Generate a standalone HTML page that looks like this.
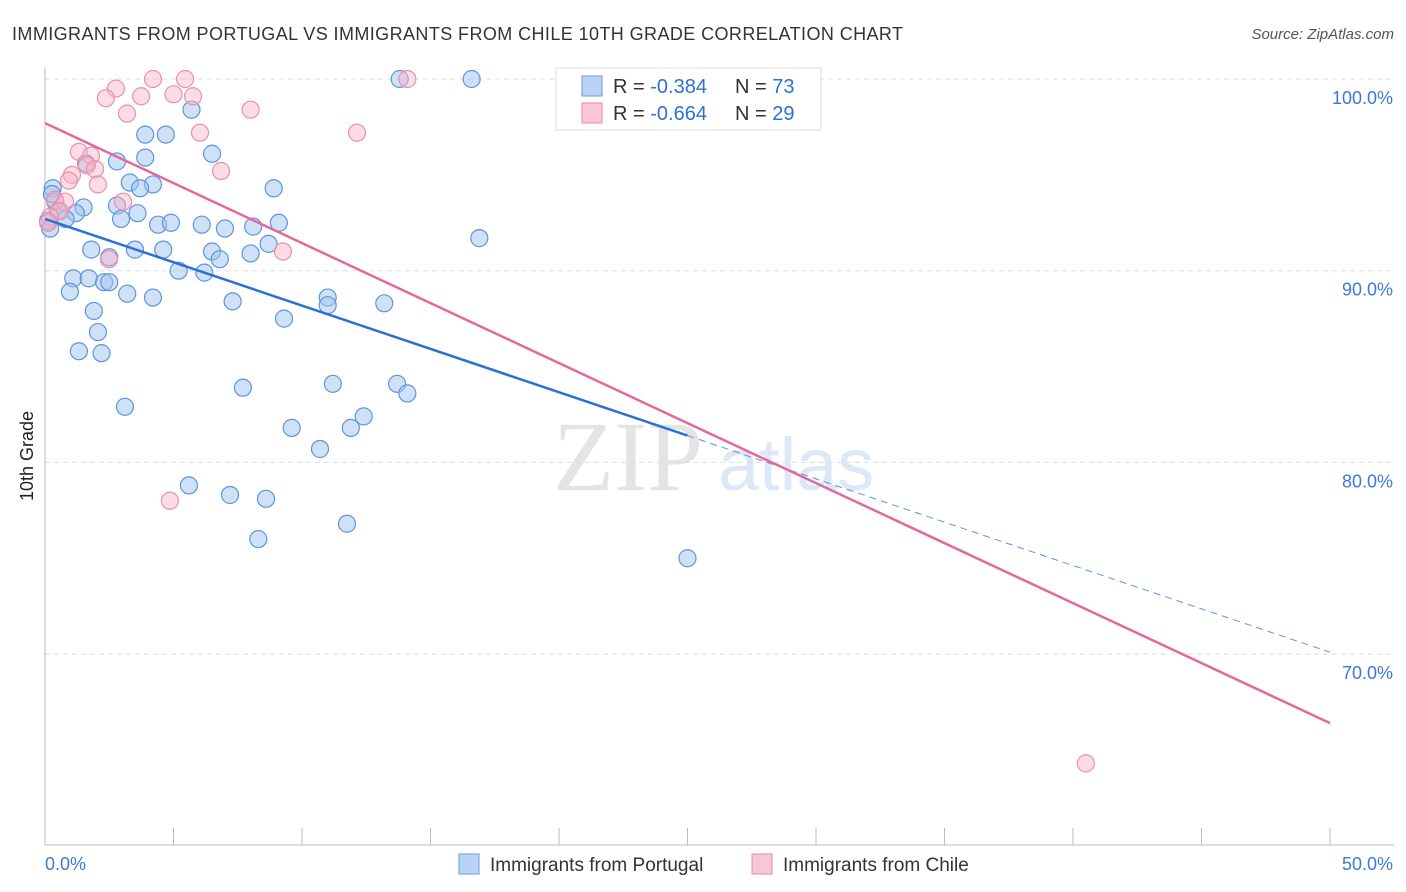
<!DOCTYPE html>
<html><head><meta charset="utf-8"><style>
body{margin:0;background:#fff;font-family:"Liberation Sans",sans-serif}
svg{display:block}
</style></head><body>
<svg id="c" width="1406" height="892">
<text x="12" y="40" font-size="18" fill="#333" textLength="891">IMMIGRANTS FROM PORTUGAL VS IMMIGRANTS FROM CHILE 10TH GRADE CORRELATION CHART</text>
<text x="1394" y="39" font-size="15" fill="#555" text-anchor="end" font-style="italic">Source: ZipAtlas.com</text>
<text x="33" y="456" font-size="18" fill="#222" text-anchor="middle" transform="rotate(-90 33 456)">10th Grade</text>
<text x="553" y="490" font-size="100" fill="#e4e4e4" font-family="Liberation Serif">ZIP</text>
<text x="718" y="490" font-size="74" fill="#dce8f7">atlas</text>
<g id="grid"></g><g id="axes"></g><g id="pts"></g><g id="lines"></g>
<g>
<rect x="556" y="68" width="265" height="62" fill="#fff" stroke="#ddd"/>
<rect x="582" y="76" width="20" height="20" fill="#b8d3f5" stroke="#6a9de0"/>
<text x="613" y="93" font-size="20" fill="#333">R = <tspan fill="#2f6fd6">-0.384</tspan></text>
<text x="735" y="93" font-size="20" fill="#333">N = <tspan fill="#2f6fd6">73</tspan></text>
<rect x="582" y="103" width="20" height="20" fill="#f9c6d5" stroke="#e88aa6"/>
<text x="613" y="120" font-size="20" fill="#333">R = <tspan fill="#2f6fd6">-0.664</tspan></text>
<text x="735" y="120" font-size="20" fill="#333">N = <tspan fill="#2f6fd6">29</tspan></text>
</g>
<g>
<rect x="459" y="854" width="20" height="20" fill="#b8d3f5" stroke="#6a9de0"/>
<text x="490" y="871" font-size="19" fill="#333">Immigrants from Portugal</text>
<rect x="752" y="854" width="20" height="20" fill="#f9c6d5" stroke="#e88aa6"/>
<text x="783" y="871" font-size="19" fill="#333">Immigrants from Chile</text>
</g>
</svg>
<script>
const xTicks=[0,5,10,15,20,25,30,35,40,45,50];
const yTicks=[100,90,80,70];
const yTickLabels=["100.0%","90.0%","80.0%","70.0%"];
const portugalX=[13.8,16.6,5.7,3.9,4.7,3.9,6.5,2.8,1.6,3.3,4.2,3.7,8.9,0.3,0.4,0.5,1.5,2.8,3.6,1.2,0.8,2.96,4.4,4.9,6.1,7.0,8.1,9.1,16.9,1.8,3.5,4.6,8.7,6.5,6.8,8.0,2.5,5.2,6.2,1.1,1.7,2.3,2.5,0.97,3.2,4.2,7.3,11.0,11.0,13.2,1.9,9.3,2.06,1.32,2.2,7.7,11.2,13.7,14.1,3.11,12.4,9.6,11.9,10.7,5.6,7.2,8.6,11.75,8.3,25.0,0.12,0.2,0.27];
const portugalY=[100,100,98.4,97.1,97.1,95.9,96.1,95.7,95.6,94.6,94.5,94.3,94.3,94.3,93.6,93.1,93.3,93.4,93.0,93.0,92.7,92.7,92.4,92.5,92.4,92.2,92.3,92.5,91.7,91.1,91.1,91.1,91.4,91.0,90.6,90.9,90.7,90.0,89.9,89.6,89.6,89.4,89.4,88.9,88.8,88.6,88.4,88.6,88.2,88.3,87.9,87.5,86.8,85.8,85.7,83.9,84.1,84.1,83.6,82.9,82.4,81.8,81.8,80.7,78.8,78.3,78.1,76.8,76.0,75.0,92.6,92.2,94.0];
const chileX=[4.2,5.45,14.1,2.76,2.37,5.0,3.74,5.76,3.19,8.0,6.03,12.14,1.32,1.79,1.63,1.95,1.05,0.93,2.06,6.85,0.39,0.78,3.04,0.58,0.19,0.12,2.49,9.26,4.86,40.5];
const chileY=[100,100,100,99.5,99.0,99.2,99.1,99.1,98.2,98.4,97.2,97.2,96.2,96.0,95.5,95.3,95.0,94.7,94.5,95.2,93.7,93.6,93.6,93.1,92.8,92.5,90.6,91.0,78.0,64.3];
const blueFit=[[0,92.7],[25,81.4],[50,70.1]];
const pinkFit=[[0,97.7],[50,66.4]];
const NS="http://www.w3.org/2000/svg";
const X=v=>45+v/50*1285, Y=v=>79+(100-v)*19.17;
function mk(t,a,p){const e=document.createElementNS(NS,t);for(const k in a)e.setAttribute(k,a[k]);document.getElementById(p).appendChild(e);return e;}
yTicks.forEach((t,i)=>{
 const g=mk('line',{x1:45,x2:1394,y1:Y(t),y2:Y(t),stroke:'#ddd','stroke-dasharray':'5,4'},'grid');
 
 
 const l=mk('text',{x:1393,y:Y(t)+25,'font-size':18,fill:'#3d78d8','text-anchor':'end'},'axes');l.textContent=yTickLabels[i];
 
 
});
const ax=mk('line',{x1:45,x2:45,y1:68,y2:845,stroke:'#bbb'},'axes');


const bx=mk('line',{x1:45,x2:1394,y1:845,y2:845,stroke:'#bbb'},'axes');


xTicks.forEach(t=>{const e=mk('line',{x1:X(t),x2:X(t),y1:828,y2:845,stroke:'#bbb'},'axes');
 
 });
const x0=mk('text',{x:45,y:870,'font-size':18,fill:'#3d78d8'},'axes');x0.textContent=xTicks[0].toFixed(1)+'%';


const x1=mk('text',{x:1393,y:870,'font-size':18,fill:'#3d78d8','text-anchor':'end'},'axes');x1.textContent=xTicks[xTicks.length-1].toFixed(1)+'%';


portugalX.forEach((v,i)=>{const c=mk('circle',{cx:X(v),cy:Y(portugalY[i]),r:8.5,fill:'rgba(160,196,240,0.5)',stroke:'#5d95dd','stroke-width':1.2},'pts');
 
 });
chileX.forEach((v,i)=>{const c=mk('circle',{cx:X(v),cy:Y(chileY[i]),r:8.5,fill:'rgba(248,180,200,0.45)',stroke:'#eb8fac','stroke-width':1.2},'pts');
 
 });
const b1=mk('line',{x1:X(blueFit[0][0]),y1:Y(blueFit[0][1]),x2:X(blueFit[1][0]),y2:Y(blueFit[1][1]),stroke:'#2b6fd8','stroke-width':2.5},'lines');


const b2=mk('line',{x1:X(blueFit[1][0]),y1:Y(blueFit[1][1]),x2:X(blueFit[2][0]),y2:Y(blueFit[2][1]),stroke:'#5d95dd','stroke-width':1,'stroke-dasharray':'7,5'},'lines');


const p1=mk('line',{x1:X(pinkFit[0][0]),y1:Y(pinkFit[0][1]),x2:X(pinkFit[1][0]),y2:Y(pinkFit[1][1]),stroke:'#e5689a','stroke-width':2.5},'lines');


</script>
</body></html>
